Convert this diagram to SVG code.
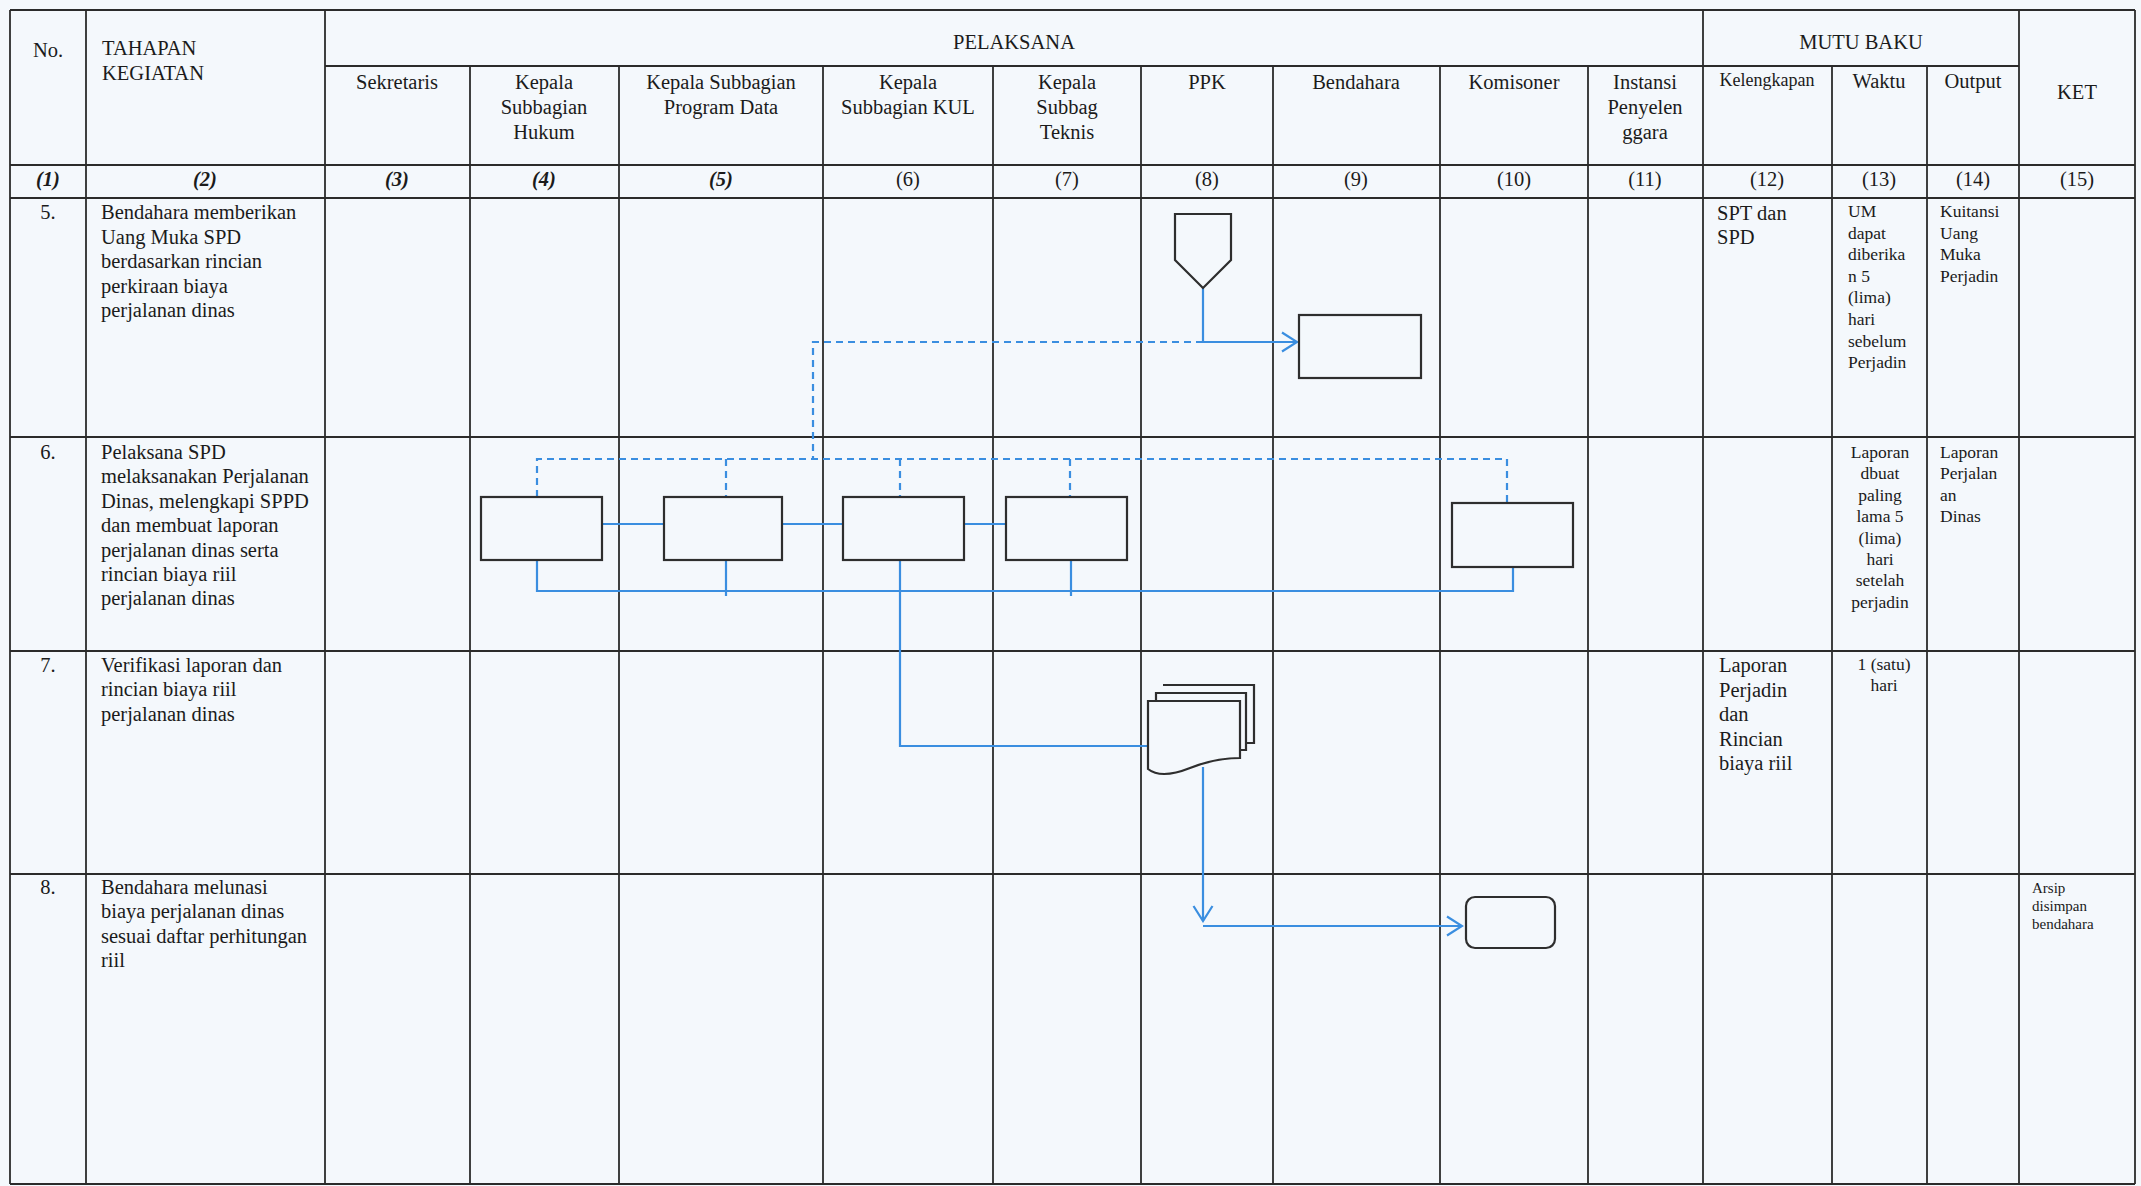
<svg xmlns="http://www.w3.org/2000/svg" width="2141" height="1186" viewBox="0 0 2141 1186">
<style>
text{font-family:"Liberation Serif","Times New Roman",serif;fill:#1b1b1b}
.t{font-size:20.5px}
.s{font-size:17.5px}
.k{font-size:20.5px}
.x{font-size:15px}
.h{font-size:18px}
.c{text-anchor:middle}
.bi{font-style:italic;font-weight:bold}
.grid line{stroke:#2b2b2b;stroke-width:1.8}
.box{fill:none;stroke:#2e2e2e;stroke-width:2.2}
.ln{fill:none;stroke:#3a8ee0;stroke-width:2.2}
.dash{fill:none;stroke:#3a8ee0;stroke-width:2.2;stroke-dasharray:7 5}
</style>
<defs>
<marker id="arr" viewBox="0 0 18 22" refX="16" refY="11" markerWidth="18" markerHeight="22" markerUnits="userSpaceOnUse" orient="auto">
<path d="M1,1.5 L16,11 L1,20.5" fill="none" stroke="#3a8ee0" stroke-width="2.2"/>
</marker>
</defs>
<rect width="2141" height="1186" fill="#f4f8fc"/>

<g class="grid">
<line x1="10" y1="10" x2="2135" y2="10"/>
<line x1="325" y1="66" x2="2019" y2="66"/>
<line x1="10" y1="165" x2="2135" y2="165"/>
<line x1="10" y1="198" x2="2135" y2="198"/>
<line x1="10" y1="437" x2="2135" y2="437"/>
<line x1="10" y1="651" x2="2135" y2="651"/>
<line x1="10" y1="874" x2="2135" y2="874"/>
<line x1="10" y1="1184" x2="2135" y2="1184"/>
<line x1="10" y1="10" x2="10" y2="1184"/>
<line x1="86" y1="10" x2="86" y2="1184"/>
<line x1="325" y1="10" x2="325" y2="1184"/>
<line x1="470" y1="66" x2="470" y2="1184"/>
<line x1="619" y1="66" x2="619" y2="1184"/>
<line x1="823" y1="66" x2="823" y2="1184"/>
<line x1="993" y1="66" x2="993" y2="1184"/>
<line x1="1141" y1="66" x2="1141" y2="1184"/>
<line x1="1273" y1="66" x2="1273" y2="1184"/>
<line x1="1440" y1="66" x2="1440" y2="1184"/>
<line x1="1588" y1="66" x2="1588" y2="1184"/>
<line x1="1703" y1="10" x2="1703" y2="1184"/>
<line x1="1832" y1="66" x2="1832" y2="1184"/>
<line x1="1927" y1="66" x2="1927" y2="1184"/>
<line x1="2019" y1="10" x2="2019" y2="1184"/>
<line x1="2135" y1="10" x2="2135" y2="1184"/>
</g>

<g id="header">
<text class="t c" x="48" y="57">No.</text>
<text class="t" x="102" y="55">TAHAPAN</text>
<text class="t" x="102" y="80">KEGIATAN</text>
<text class="t c" x="1014" y="49">PELAKSANA</text>
<text class="t c" x="1861" y="49">MUTU BAKU</text>
<text class="t c" x="2077" y="99">KET</text>
<text class="t c" x="397" y="89">Sekretaris</text>
<text class="t c" x="544" y="89">Kepala</text>
<text class="t c" x="544" y="114">Subbagian</text>
<text class="t c" x="544" y="139">Hukum</text>
<text class="t c" x="721" y="89">Kepala Subbagian</text>
<text class="t c" x="721" y="114">Program Data</text>
<text class="t c" x="908" y="89">Kepala</text>
<text class="t c" x="908" y="114">Subbagian KUL</text>
<text class="t c" x="1067" y="89">Kepala</text>
<text class="t c" x="1067" y="114">Subbag</text>
<text class="t c" x="1067" y="139">Teknis</text>
<text class="t c" x="1207" y="89">PPK</text>
<text class="t c" x="1356" y="89">Bendahara</text>
<text class="t c" x="1514" y="89">Komisoner</text>
<text class="t c" x="1645" y="89">Instansi</text>
<text class="t c" x="1645" y="114">Penyelen</text>
<text class="t c" x="1645" y="139">ggara</text>
<text class="h c" x="1767" y="86">Kelengkapan</text>
<text class="t c" x="1879" y="88">Waktu</text>
<text class="t c" x="1973" y="88">Output</text>
<text class="t c bi" x="48" y="186">(1)</text>
<text class="t c bi" x="205" y="186">(2)</text>
<text class="t c bi" x="397" y="186">(3)</text>
<text class="t c bi" x="544" y="186">(4)</text>
<text class="t c bi" x="721" y="186">(5)</text>
<text class="t c" x="908" y="186">(6)</text>
<text class="t c" x="1067" y="186">(7)</text>
<text class="t c" x="1207" y="186">(8)</text>
<text class="t c" x="1356" y="186">(9)</text>
<text class="t c" x="1514" y="186">(10)</text>
<text class="t c" x="1645" y="186">(11)</text>
<text class="t c" x="1767" y="186">(12)</text>
<text class="t c" x="1879" y="186">(13)</text>
<text class="t c" x="1973" y="186">(14)</text>
<text class="t c" x="2077" y="186">(15)</text>
</g>

<g id="row5">
<text class="t c" x="48" y="219">5.</text>
<text class="t" x="101" y="219">Bendahara memberikan</text>
<text class="t" x="101" y="243.5">Uang Muka SPD</text>
<text class="t" x="101" y="268">berdasarkan rincian</text>
<text class="t" x="101" y="292.5">perkiraan biaya</text>
<text class="t" x="101" y="317">perjalanan dinas</text>
<text class="k" x="1717" y="220">SPT dan</text>
<text class="k" x="1717" y="244">SPD</text>
<text class="s" x="1848" y="217">UM</text>
<text class="s" x="1848" y="238.6">dapat</text>
<text class="s" x="1848" y="260.2">diberika</text>
<text class="s" x="1848" y="281.8">n 5</text>
<text class="s" x="1848" y="303.4">(lima)</text>
<text class="s" x="1848" y="325">hari</text>
<text class="s" x="1848" y="346.6">sebelum</text>
<text class="s" x="1848" y="368.2">Perjadin</text>
<text class="s" x="1940" y="217">Kuitansi</text>
<text class="s" x="1940" y="238.6">Uang</text>
<text class="s" x="1940" y="260.2">Muka</text>
<text class="s" x="1940" y="281.8">Perjadin</text>
</g>

<g id="row6">
<text class="t c" x="48" y="459">6.</text>
<text class="t" x="101" y="459">Pelaksana SPD</text>
<text class="t" x="101" y="483.4">melaksanakan Perjalanan</text>
<text class="t" x="101" y="507.8">Dinas, melengkapi SPPD</text>
<text class="t" x="101" y="532.2">dan membuat laporan</text>
<text class="t" x="101" y="556.6">perjalanan dinas serta</text>
<text class="t" x="101" y="581">rincian biaya riil</text>
<text class="t" x="101" y="605.4">perjalanan dinas</text>
<text class="s c" x="1880" y="458">Laporan</text>
<text class="s c" x="1880" y="479.4">dbuat</text>
<text class="s c" x="1880" y="500.8">paling</text>
<text class="s c" x="1880" y="522.2">lama 5</text>
<text class="s c" x="1880" y="543.6">(lima)</text>
<text class="s c" x="1880" y="565">hari</text>
<text class="s c" x="1880" y="586.4">setelah</text>
<text class="s c" x="1880" y="607.8">perjadin</text>
<text class="s" x="1940" y="458">Laporan</text>
<text class="s" x="1940" y="479.4">Perjalan</text>
<text class="s" x="1940" y="500.8">an</text>
<text class="s" x="1940" y="522.2">Dinas</text>
</g>

<g id="row7">
<text class="t c" x="48" y="672">7.</text>
<text class="t" x="101" y="672">Verifikasi laporan dan</text>
<text class="t" x="101" y="696.4">rincian biaya riil</text>
<text class="t" x="101" y="720.8">perjalanan dinas</text>
<text class="k" x="1719" y="672">Laporan</text>
<text class="k" x="1719" y="696.5">Perjadin</text>
<text class="k" x="1719" y="721">dan</text>
<text class="k" x="1719" y="745.5">Rincian</text>
<text class="k" x="1719" y="770">biaya riil</text>
<text class="s c" x="1884" y="670">1 (satu)</text>
<text class="s c" x="1884" y="691">hari</text>
</g>

<g id="row8">
<text class="t c" x="48" y="894">8.</text>
<text class="t" x="101" y="894">Bendahara melunasi</text>
<text class="t" x="101" y="918.4">biaya perjalanan dinas</text>
<text class="t" x="101" y="942.8">sesuai daftar perhitungan</text>
<text class="t" x="101" y="967.2">riil</text>
<text class="x" x="2032" y="893">Arsip</text>
<text class="x" x="2032" y="911">disimpan</text>
<text class="x" x="2032" y="929">bendahara</text>
</g>

<g id="connectors">
<path class="ln" d="M1203,288 V342 H1297" marker-end="url(#arr)"/>
<path class="dash" d="M1203,342 H813 V459"/>
<path class="dash" d="M537,497 V459 H1507 V503"/>
<path class="dash" d="M726,459 V497"/>
<path class="dash" d="M900,459 V497"/>
<path class="dash" d="M1070,459 V497"/>
<path class="ln" d="M602,524 H664"/>
<path class="ln" d="M782,524 H843"/>
<path class="ln" d="M964,524 H1006"/>
<path class="ln" d="M537,560 V591 H1513 V567"/>
<path class="ln" d="M726,560 V596"/>
<path class="ln" d="M1071,560 V596"/>
<path class="ln" d="M900,560 V746 H1148"/>
<path class="ln" d="M1203,767 V921" marker-end="url(#arr)"/>
<path class="ln" d="M1203,926 H1462" marker-end="url(#arr)"/>
</g>

<g id="node-ppk-offpage">
<polygon class="box" points="1175,214 1231,214 1231,260 1203,288 1175,260"/>
</g>
<g id="node-bendahara-proses">
<rect class="box" x="1299" y="315" width="122" height="63"/>
</g>
<g id="node-hukum">
<rect class="box" x="481" y="497" width="121" height="63"/>
</g>
<g id="node-program">
<rect class="box" x="664" y="497" width="118" height="63"/>
</g>
<g id="node-kul">
<rect class="box" x="843" y="497" width="121" height="63"/>
</g>
<g id="node-teknis">
<rect class="box" x="1006" y="497" width="121" height="63"/>
</g>
<g id="node-komisoner">
<rect class="box" x="1452" y="503" width="121" height="64"/>
</g>
<g id="node-dokumen">
<path class="box" fill="#f4f8fc" d="M1163,685 H1254 V743 H1246" style="fill:#f4f8fc"/>
<path class="box" d="M1156,701 V693 H1246 V750 H1240" style="fill:#f4f8fc"/>
<path class="box" d="M1148,701 H1240 V758 C1222,758 1205,762 1190,768 C1175,774 1158,777 1148,769 Z" style="fill:#f4f8fc"/>
</g>
<g id="node-terminator">
<rect class="box" x="1466" y="897" width="89" height="51" rx="9"/>
</g>
</svg>
